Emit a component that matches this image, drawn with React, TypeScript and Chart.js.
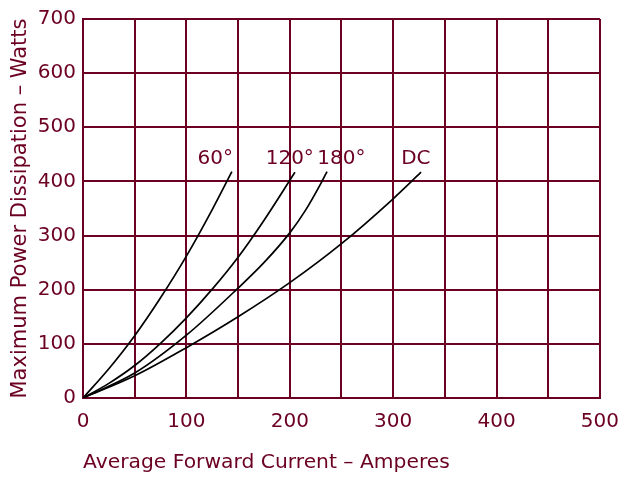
import React, { useEffect, useRef } from "react";
import { Chart, registerables } from "chart.js";

Chart.register(...registerables);

const MAROON = "#6b0022";
const FONT = "'DejaVu Sans', sans-serif";

// Curve data (Average Forward Current A, Max Power W)
const curveNames = ["60°", "120°", "180°", "DC"];
const x60 = [0, 25, 50, 75, 100, 125, 144];
const y60 = [0, 54, 115, 185, 262, 348, 418];
const x120 = [0, 25, 50, 75, 100, 125, 150, 175, 205];
const y120 = [0, 27, 60, 101, 148, 201, 260, 328, 417];
const x180 = [0, 50, 100, 150, 175, 200, 215, 230, 236];
const y180 = [0, 46, 116, 203, 250, 305, 346, 396, 418];
const xDC = [0, 50, 100, 150, 200, 250, 300, 327];
const yDC = [0, 41, 93, 150, 213, 285, 368, 417];

// Curve label anchors (data coords)
const labelX = [128, 200, 250, 322];
const labelY = [442, 442, 442, 442];

// Axis ranges / ticks
const xMin = 0, xMax = 500, xGridStep = 50, xLabelStep = 100;
const yMin = 0, yMax = 700, yStep = 100;

const xTitle = "Average Forward Current – Amperes";
const yTitle = "Maximum Power Dissipation – Watts";

const toPts = (xs: number[], ys: number[]) => xs.map((x, i) => ({ x, y: ys[i] }));

const curveLabelPlugin = {
  id: "curveLabels",
  afterDatasetsDraw(chart: any) {
    const { ctx, scales } = chart;
    ctx.save();
    ctx.fillStyle = MAROON;
    ctx.font = `20px ${FONT}`;
    ctx.textAlign = "center";
    ctx.textBaseline = "middle";
    curveNames.forEach((n, i) => {
      ctx.fillText(n, scales.x.getPixelForValue(labelX[i]), scales.y.getPixelForValue(labelY[i]));
    });
    ctx.restore();
  },
};

export default function App() {
  const ref = useRef<HTMLCanvasElement | null>(null);
  useEffect(() => {
    document.body.style.margin = "0";
    if (!ref.current) return;
    const series = [toPts(x60, y60), toPts(x120, y120), toPts(x180, y180), toPts(xDC, yDC)];
    const chart = new Chart(ref.current, {
      type: "line",
      data: {
        datasets: series.map((d, i) => ({
          label: curveNames[i],
          data: d,
          borderColor: "#000000",
          borderWidth: 1.7,
          pointRadius: 0,
          fill: false,
          cubicInterpolationMode: "monotone" as const,
        })),
      },
      options: {
        animation: false,
        responsive: true,
        maintainAspectRatio: false,
        layout: { padding: { left: 0, right: 28, top: 19, bottom: 0 } },
        plugins: { legend: { display: false }, tooltip: { enabled: false } },
        scales: {
          x: {
            type: "linear",
            min: xMin,
            max: xMax,
            afterFit: (s: any) => { s.height = 79; },
            grid: { color: MAROON, lineWidth: 2, drawTicks: false },
            border: { color: MAROON, width: 2 },
            ticks: {
              stepSize: xGridStep,
              padding: 12,
              color: MAROON,
              font: { family: FONT, size: 20 },
              maxRotation: 0,
              autoSkip: false,
              callback: (v: any) => (Number(v) % xLabelStep === 0 ? String(v) : ""),
            },
            title: {
              display: true,
              text: xTitle,
              align: "start",
              color: MAROON,
              font: { family: FONT, size: 20.3 },
              padding: { top: 0, bottom: 2 },
            },
          },
          y: {
            type: "linear",
            min: yMin,
            max: yMax,
            afterFit: (s: any) => { s.width = 83; },
            grid: { color: MAROON, lineWidth: 2, drawTicks: false },
            border: { color: MAROON, width: 2 },
            ticks: {
              stepSize: yStep,
              padding: 7,
              color: MAROON,
              font: { family: FONT, size: 20 },
            },
            title: {
              display: true,
              text: yTitle,
              color: MAROON,
              font: { family: FONT, size: 21 },
              padding: { top: 8, bottom: 0 },
            },
          },
        },
      },
      plugins: [curveLabelPlugin],
    });
    return () => chart.destroy();
  }, []);
  return (
    <div style={{ position: "relative", width: 631, height: 477 }}>
      <canvas ref={ref} />
    </div>
  );
}
